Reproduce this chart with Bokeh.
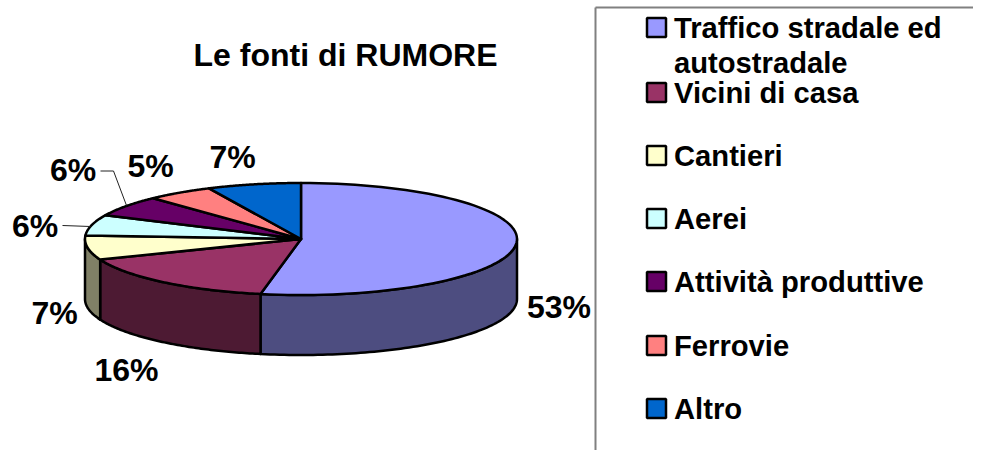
import numpy as np
from bokeh.plotting import figure
from bokeh.models import Range1d
from bokeh.core.properties import value
from bokeh.embed import file_html
from bokeh.resources import INLINE

# ---- data
title = "Le fonti di RUMORE"
categories = ["Traffico stradale ed autostradale", "Vicini di casa", "Cantieri", "Aerei",
              "Attività produttive", "Ferrovie", "Altro"]
shares = [53, 16, 7, 6, 6, 5, 7]
colors = ["#9999FF", "#993366", "#FFFFCC", "#CCFFFF", "#660066", "#FF8080", "#0066CC"]
side_colors = ["#4D4D80", "#4D1A33", "#808066", "#668080", "#330033", "#804040", "#003366"]
legend_lines = [["Traffico stradale ed", "autostradale"], ["Vicini di casa"], ["Cantieri"], ["Aerei"],
                ["Attività produttive"], ["Ferrovie"], ["Altro"]]

# ---- layout (page pixels)
CX, CY, RX, RY, DEPTH = 300.5, 238.5, 216, 56, 60
label_x = [558.5, 126, 54, 34.5, 72.5, 150, 232]
label_y = [306.5, 369.5, 312.5, 225.5, 169.5, 165.5, 156.5]
legend_y = [27, 92, 155, 218, 281, 345, 408]
FONT = value("Liberation Sans")
FS_TITLE = "32px"
FS_LABEL = "32px"
FS_LEGEND = "29.2px"

p = figure(width=973, height=450, x_range=Range1d(0, 973), y_range=Range1d(450, 0),
           toolbar_location=None, output_backend="svg", min_border=0,
           background_fill_color="white", border_fill_color="white", outline_line_color=None)
p.axis.visible = False
p.grid.visible = False


def rim(t1, t2, n=80):
    t = np.linspace(t1, t2, n)
    return CX + RX * np.sin(t), CY - RY * np.cos(t)


edges = 2 * np.pi * np.cumsum([0] + shares) / sum(shares)

# visible outer wall: only the front half of the ellipse
for i in range(len(shares)):
    a, b = max(edges[i], np.pi / 2), min(edges[i + 1], 3 * np.pi / 2)
    if b > a:
        x, y = rim(a, b)
        p.patch(np.r_[x, x[::-1]], np.r_[y, y[::-1] + DEPTH], fill_color=side_colors[i],
                line_color="black", line_width=2.5, line_join="round")

# top face
for i in range(len(shares)):
    x, y = rim(edges[i], edges[i + 1])
    p.patch(np.r_[CX, x], np.r_[CY, y], fill_color=colors[i], line_color="black",
            line_width=2.5, line_join="round")

# leader lines
p.line([100, 113, 126], [170.5, 170.5, 205], line_color="#222222", line_width=1)
p.line([62, 90], [225, 226], line_color="#222222", line_width=1)

# labels
p.text(label_x, label_y, text=[f"{s}%" for s in shares], text_font=FONT, text_font_style="bold",
       text_font_size=FS_LABEL, text_align="center", text_baseline="middle", text_color="black")
p.text([345], [54], text=[title], text_font=FONT, text_font_style="bold", text_font_size=FS_TITLE,
       text_align="center", text_baseline="middle", text_color="black")

# legend frame
p.line([595, 595], [450, 7], line_color="#808080", line_width=2)
p.line([595, 973], [7, 7], line_color="#808080", line_width=2)

# legend
p.rect([656] * len(legend_y), legend_y, width=19, height=19, fill_color=colors,
       line_color="black", line_width=2.5)
for yy, lines in zip(legend_y, legend_lines):
    p.text([673.5] * len(lines), [yy + 35 * k for k in range(len(lines))], text=lines, text_font=FONT,
           text_font_style="bold", text_font_size=FS_LEGEND, text_align="left", text_baseline="middle",
           text_color="black")

open("out.html", "w").write(file_html(p, INLINE))
